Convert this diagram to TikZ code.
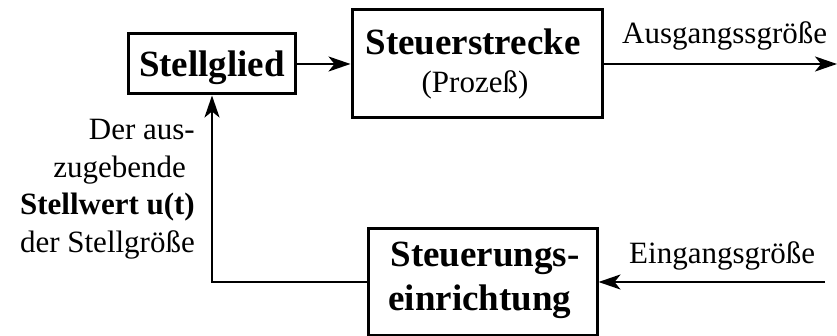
\documentclass[tikz,border=0pt]{standalone}
\usepackage{fontspec}
\setmainfont{Liberation Serif}
\usetikzlibrary{arrows.meta}
\begin{document}
\begin{tikzpicture}[x=1pt,y=-1pt,
  box/.style={draw, line width=3pt, inner sep=0pt},
  reg/.style={font=\fontsize{31}{37}\selectfont, inner sep=0pt},
  bld/.style={font=\fontsize{37}{44}\selectfont\bfseries, inner sep=0pt},
  conn/.style={line width=2.6pt, -{Stealth[length=22pt,width=15pt,inset=6pt]}}]
\useasboundingbox (0,0) rectangle (837,336);
% boxes
\node[box, minimum width=167pt, minimum height=60pt] (sg) at (212,64) {};
\node[box, minimum width=250pt, minimum height=108pt] (ss) at (477,64) {};
\node[box, minimum width=229pt, minimum height=106pt] (se) at (482.5,282) {};
% box texts
\node[bld, anchor=base] (sgt) at (212,77) {Stellglied};
\node[bld, anchor=base] (sst) at (473,55) {Steuerstrecke};
\node[reg, anchor=base] (ssp) at (475,93) {(Prozeß)};
\node[bld, anchor=base] (set1) at (485,267) {Steuerungs-};
\node[bld, anchor=base] (set2) at (480,310) {einrichtung};
% labels
\node[reg, anchor=base west] (aus) at (622,44) {Ausgangssgröße};
\node[reg, anchor=base west] (ein) at (629,264) {Eingangsgröße};
\node[reg, anchor=base east] (l1) at (195,140) {Der aus-};
\node[reg, anchor=base east] (l2) at (186,178) {zugebende};
\node[bld, anchor=base east, font=\fontsize{31}{37}\selectfont\bfseries] (l3) at (195,215) {Stellwert u(t)};
\node[reg, anchor=base east] (l4) at (195,253) {der Stellgröße};
% connectors
\coordinate (out) at (837,64);
\coordinate (in) at (825,282);
\draw[conn] (sg.east) -- (ss.west);
\draw[conn] (ss.east) -- (out);
\draw[conn] (in) -- (se.east);
\draw[conn] (se.west) -| (sg.south);
\end{tikzpicture}
\end{document}
